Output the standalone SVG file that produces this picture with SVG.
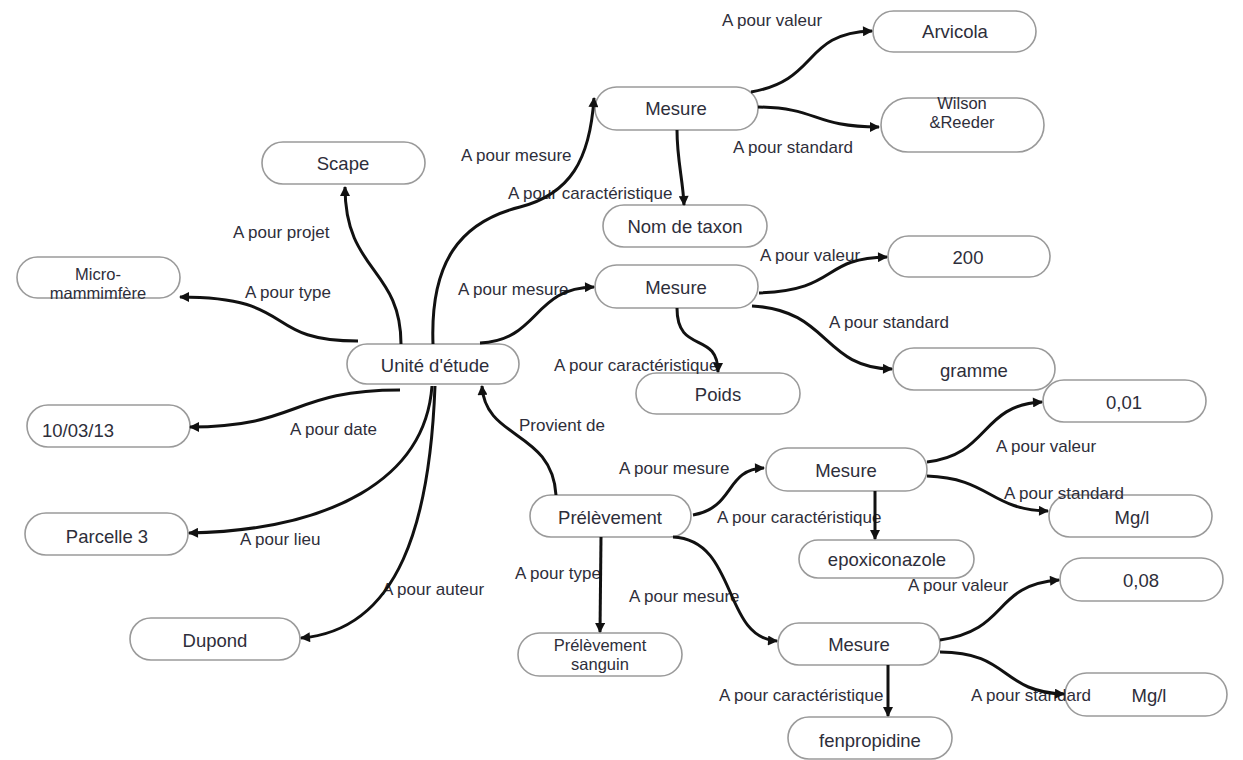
<svg xmlns="http://www.w3.org/2000/svg" width="1243" height="760" viewBox="0 0 1243 760">
  <style>
    .node rect { fill: #ffffff; stroke: #9a9a9a; stroke-width: 1.6; }
    .node text { font-family: "Liberation Sans", Arial, sans-serif; font-size: 18.5px; fill: #2e2e3a; text-anchor: middle; }
    .node text.two { font-size: 16.5px; }
    .lbl { font-family: "Liberation Sans", Arial, sans-serif; font-size: 17px; fill: #2e2e3a; }
    .edge { fill: none; stroke: #111111; stroke-width: 3; marker-end: url(#arrow); }
  </style>
  <defs>
    <marker id="arrow" viewBox="0 0 10 10" refX="9" refY="5" markerWidth="11" markerHeight="10" markerUnits="userSpaceOnUse" orient="auto">
      <path d="M0,0 L10,5 L0,10 z" fill="#111111"/>
    </marker>
  </defs>
  <rect x="0" y="0" width="1243" height="760" fill="#ffffff"/>

  <!-- nodes -->
  <g id="arvicola" class="node"><rect x="873" y="11" width="163" height="41" rx="20.5"/><text x="955" y="38">Arvicola</text></g>
  <g id="wilson" class="node"><rect x="881" y="98" width="163" height="54" rx="27"/><text class="two" x="962" y="109">Wilson</text><text class="two" x="962" y="128">&amp;Reeder</text></g>
  <g id="mesure1" class="node"><rect x="595" y="87" width="163" height="43" rx="21.5"/><text x="676" y="115">Mesure</text></g>
  <g id="scape" class="node"><rect x="262" y="142" width="163" height="42" rx="21"/><text x="343" y="170">Scape</text></g>
  <g id="taxon" class="node"><rect x="603" y="205" width="164" height="42" rx="21"/><text x="685" y="233">Nom de taxon</text></g>
  <g id="v200" class="node"><rect x="888" y="236" width="162" height="41" rx="20.5"/><text x="968" y="264">200</text></g>
  <g id="micro" class="node"><rect x="17" y="257" width="163" height="41" rx="20.5"/><text class="two" x="98" y="280">Micro-</text><text class="two" x="98" y="299">mammimfère</text></g>
  <g id="mesure2" class="node"><rect x="595" y="265" width="163" height="43" rx="21.5"/><text x="676" y="294">Mesure</text></g>
  <g id="unite" class="node"><rect x="347" y="344" width="172" height="40" rx="20"/><text x="435" y="372">Unité d'étude</text></g>
  <g id="gramme" class="node"><rect x="893" y="348" width="162" height="42" rx="21"/><text x="974" y="377">gramme</text></g>
  <g id="poids" class="node"><rect x="636" y="373" width="164" height="41" rx="20.5"/><text x="718" y="401">Poids</text></g>
  <g id="date" class="node"><rect x="27" y="405" width="163" height="42" rx="21"/><text x="42" y="437" style="text-anchor:start">10/03/13</text></g>
  <g id="v001" class="node"><rect x="1043" y="380" width="163" height="42" rx="21"/><text x="1124" y="409">0,01</text></g>
  <g id="mesure3" class="node"><rect x="766" y="448" width="161" height="43" rx="21.5"/><text x="846" y="477">Mesure</text></g>
  <g id="prelevement" class="node"><rect x="530" y="495" width="161" height="42" rx="21"/><text x="610" y="524">Prélèvement</text></g>
  <g id="mgl1" class="node"><rect x="1049" y="495" width="163" height="42" rx="21"/><text x="1132" y="524">Mg/l</text></g>
  <g id="epoxi" class="node"><rect x="799" y="540" width="175" height="38" rx="19"/><text x="887" y="566">epoxiconazole</text></g>
  <g id="parcelle" class="node"><rect x="25" y="513" width="163" height="42" rx="21"/><text x="107" y="543">Parcelle 3</text></g>
  <g id="v008" class="node"><rect x="1060" y="558" width="163" height="43" rx="21.5"/><text x="1141" y="587">0,08</text></g>
  <g id="dupond" class="node"><rect x="130" y="618" width="170" height="42" rx="21"/><text x="215" y="647">Dupond</text></g>
  <g id="sanguin" class="node"><rect x="518" y="633" width="164" height="43" rx="21.5"/><text class="two" x="600" y="651">Prélèvement</text><text class="two" x="600" y="670">sanguin</text></g>
  <g id="mesure4" class="node"><rect x="778" y="623" width="162" height="42" rx="21"/><text x="859" y="651">Mesure</text></g>
  <g id="mgl2" class="node"><rect x="1065" y="673" width="162" height="43" rx="21.5"/><text x="1149" y="702">Mg/l</text></g>
  <g id="fenpro" class="node"><rect x="788" y="717" width="164" height="42" rx="21"/><text x="870" y="747">fenpropidine</text></g>

  <!-- relation labels -->
  <g id="labels" class="lbl">
    <text x="722" y="26">A pour valeur</text>
    <text x="733" y="153">A pour standard</text>
    <text x="461" y="161">A pour mesure</text>
    <text x="508" y="199">A pour caractéristique</text>
    <text x="233" y="238">A pour projet</text>
    <text x="760" y="261">A pour valeur</text>
    <text x="245" y="298">A pour type</text>
    <text x="458" y="295">A pour mesure</text>
    <text x="829" y="328">A pour standard</text>
    <text x="554" y="371">A pour caractéristique</text>
    <text x="290" y="435">A pour date</text>
    <text x="519" y="431">Provient de</text>
    <text x="996" y="452">A pour valeur</text>
    <text x="619" y="474">A pour mesure</text>
    <text x="1004" y="499">A pour standard</text>
    <text x="717" y="523">A pour caractéristique</text>
    <text x="240" y="545">A pour lieu</text>
    <text x="515" y="579">A pour type</text>
    <text x="908" y="591">A pour valeur</text>
    <text x="382" y="595">A pour auteur</text>
    <text x="629" y="602">A pour mesure</text>
    <text x="719" y="701">A pour caractéristique</text>
    <text x="971" y="701">A pour standard</text>
  </g>

  <!-- connectors -->
  <g id="connectors">
    <path class="edge" d="M401,344 C401,268 345,272 345,187"/>
    <path class="edge" d="M358,341 C260,341 300,297 180,297"/>
    <path class="edge" d="M433,344 C430,262 460,222 520,207 C570,194 590,160 594,98"/>
    <path class="edge" d="M751,92 C820,80 802,33 872,31"/>
    <path class="edge" d="M758,107 C820,108 812,127 879,127"/>
    <path class="edge" d="M677,130 C677,160 683,180 684,205"/>
    <path class="edge" d="M480,343 C540,340 532,288 594,287"/>
    <path class="edge" d="M759,293 C840,290 820,258 887,257"/>
    <path class="edge" d="M752,306 C830,310 822,368 892,369"/>
    <path class="edge" d="M677,308 C677,355 718,330 718,372"/>
    <path class="edge" d="M400,390 C290,390 300,427 190,427"/>
    <path class="edge" d="M432,386 C425,480 330,530 189,533"/>
    <path class="edge" d="M435,386 C430,520 400,630 301,638"/>
    <path class="edge" d="M556,495 C552,430 485,440 482,386"/>
    <path class="edge" d="M693,515 C735,508 725,469 764,468"/>
    <path class="edge" d="M601,537 L600,632"/>
    <path class="edge" d="M673,537 C738,540 722,638 777,641"/>
    <path class="edge" d="M927,462 C990,455 980,405 1042,402"/>
    <path class="edge" d="M927,476 C990,478 990,510 1048,511"/>
    <path class="edge" d="M875,491 L875,539"/>
    <path class="edge" d="M940,640 C1010,630 992,585 1059,580"/>
    <path class="edge" d="M940,652 C1010,652 1000,692 1064,694"/>
    <path class="edge" d="M888,665 L888,716"/>
  </g>
</svg>
